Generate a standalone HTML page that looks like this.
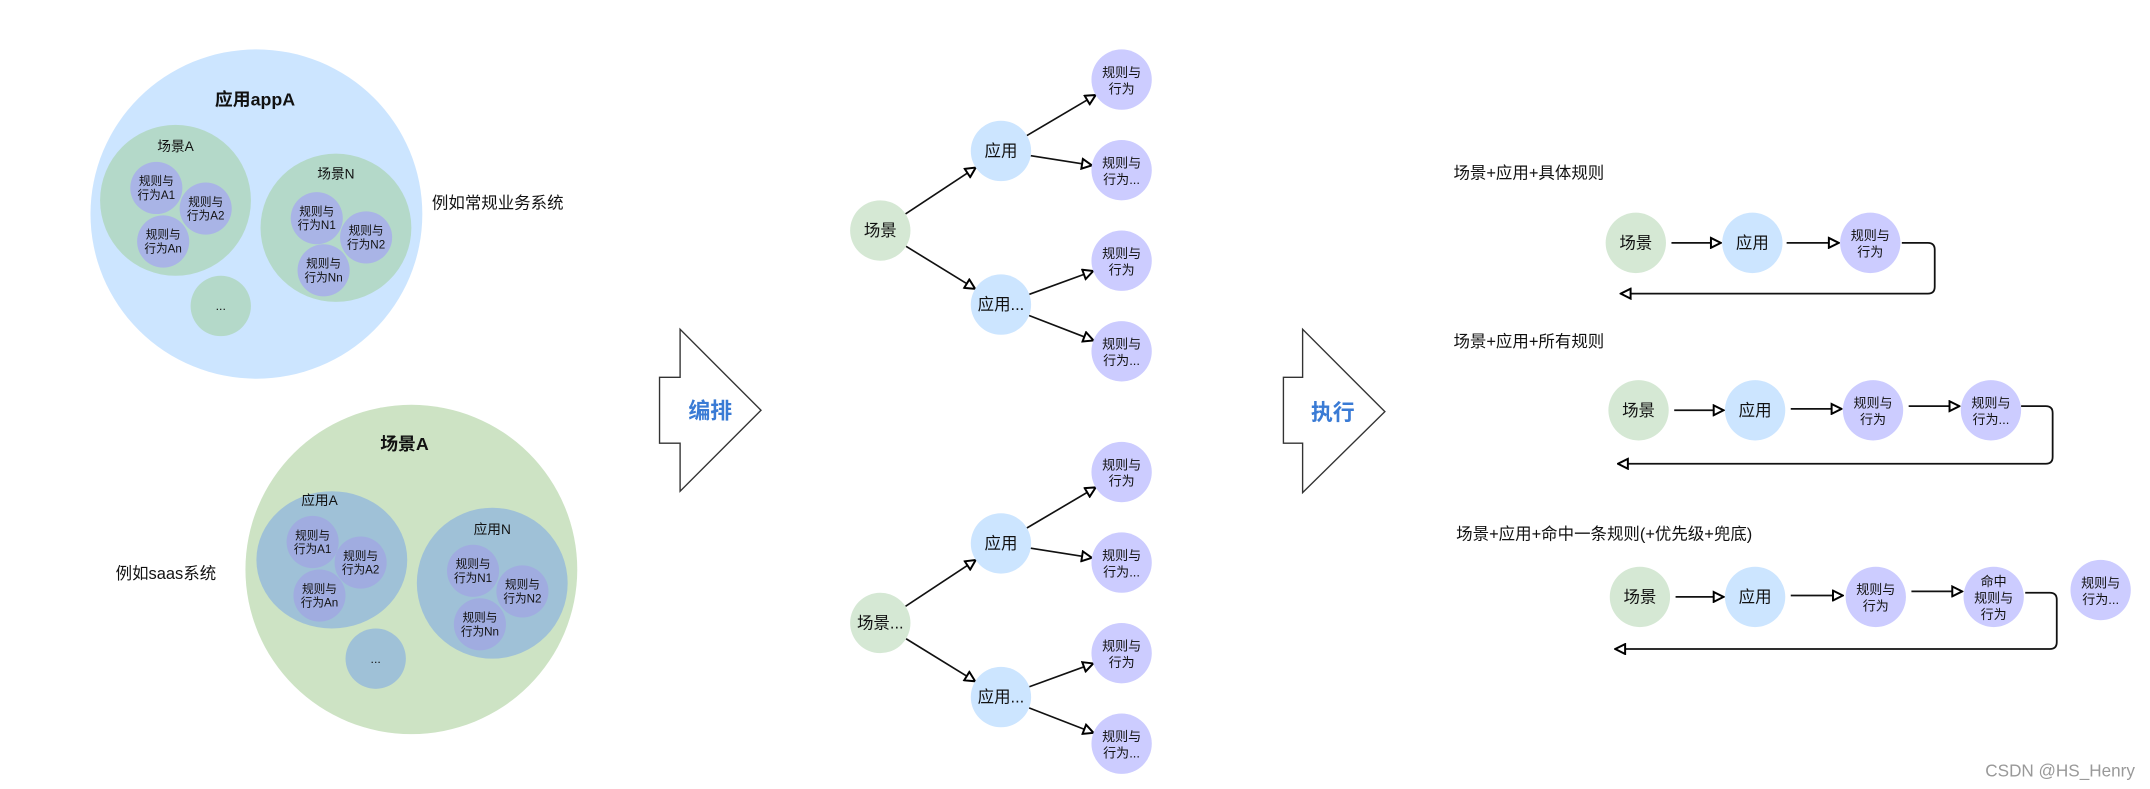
<!DOCTYPE html>
<html><head><meta charset="utf-8"><style>
html,body{margin:0;padding:0;background:#fff;}
svg{display:block;}
text{font-family:"Liberation Sans","Noto Sans CJK SC",sans-serif;fill:#111;text-anchor:middle;}
</style></head><body>
<svg width="2150" height="789" viewBox="0 0 1568 575" preserveAspectRatio="none" xmlns="http://www.w3.org/2000/svg">
<defs>
<marker id="a" viewBox="0 0 10 10" refX="9" refY="5" markerWidth="9" markerHeight="9" markerUnits="userSpaceOnUse" orient="auto">
<path d="M1,1 L9,5 L1,9 z" fill="#fff" stroke="#000" stroke-width="1.6"/>
</marker>
</defs>
<rect width="1568" height="575" fill="#fff"/>

<!-- top left -->
<ellipse cx="187" cy="156" rx="121" ry="120" fill="#cce5ff"/>
<text x="186" y="77" font-size="13" font-weight="bold">应用appA</text>
<ellipse cx="128" cy="146" rx="55" ry="55" fill="#b4d9c9"/>
<text x="128" y="110" font-size="10">场景A</text>
<g font-size="8.5">
<circle cx="114" cy="137" r="19" fill="#a9b4e6"/><text x="114" y="135">规则与</text><text x="114" y="145">行为A1</text>
<circle cx="150" cy="152" r="19" fill="#a9b4e6"/><text x="150" y="150">规则与</text><text x="150" y="160">行为A2</text>
<circle cx="119" cy="176" r="19" fill="#a9b4e6"/><text x="119" y="174">规则与</text><text x="119" y="184">行为An</text>
</g>
<ellipse cx="161" cy="223" rx="22" ry="22" fill="#b4d9c9"/><text x="161" y="226" font-size="9">...</text>
<ellipse cx="245" cy="166" rx="55" ry="54" fill="#b4d9c9"/>
<text x="245" y="130" font-size="10">场景N</text>
<g font-size="8.5">
<circle cx="231" cy="159" r="19" fill="#a9b4e6"/><text x="231" y="157">规则与</text><text x="231" y="167">行为N1</text>
<circle cx="267" cy="173" r="19" fill="#a9b4e6"/><text x="267" y="171">规则与</text><text x="267" y="181">行为N2</text>
<circle cx="236" cy="197" r="19" fill="#a9b4e6"/><text x="236" y="195">规则与</text><text x="236" y="205">行为Nn</text>
</g>
<text x="363" y="152" font-size="12">例如常规业务系统</text>

<!-- bottom left -->
<ellipse cx="300" cy="415" rx="121" ry="120" fill="#cde3c4"/>
<text x="295" y="328" font-size="13" font-weight="bold">场景A</text>
<ellipse cx="242" cy="408" rx="55" ry="50" fill="#9fc1d7"/>
<text x="233" y="368" font-size="10">应用A</text>
<g font-size="8.5">
<circle cx="228" cy="395" r="19" fill="#a0ace0"/><text x="228" y="393">规则与</text><text x="228" y="403">行为A1</text>
<circle cx="263" cy="410" r="19" fill="#a0ace0"/><text x="263" y="408">规则与</text><text x="263" y="418">行为A2</text>
<circle cx="233" cy="434" r="19" fill="#a0ace0"/><text x="233" y="432">规则与</text><text x="233" y="442">行为An</text>
</g>
<ellipse cx="274" cy="480" rx="22" ry="22" fill="#9fc1d7"/><text x="274" y="483" font-size="9">...</text>
<ellipse cx="359" cy="425" rx="55" ry="55" fill="#9fc1d7"/>
<text x="359" y="389" font-size="10">应用N</text>
<g font-size="8.5">
<circle cx="345" cy="416" r="19" fill="#a0ace0"/><text x="345" y="414">规则与</text><text x="345" y="424">行为N1</text>
<circle cx="381" cy="431" r="19" fill="#a0ace0"/><text x="381" y="429">规则与</text><text x="381" y="439">行为N2</text>
<circle cx="350" cy="455" r="19" fill="#a0ace0"/><text x="350" y="453">规则与</text><text x="350" y="463">行为Nn</text>
</g>
<text x="121" y="422" font-size="12">例如saas系统</text>

<!-- big arrows -->
<path d="M481,275 H496 V240 L555,299 L496,358 V323 H481 Z" fill="#fff" stroke="#333" stroke-width="1"/>
<text x="518" y="305" font-size="16" font-weight="bold" style="fill:#3a7bd5">编排</text>
<path d="M936,275 H950 V240 L1010,300 L950,359 V323 H936 Z" fill="#fff" stroke="#333" stroke-width="1"/>
<text x="972" y="306" font-size="16" font-weight="bold" style="fill:#3a7bd5">执行</text>

<!-- middle trees -->
<g id="tree">
<g stroke="#111" stroke-width="1.2" marker-end="url(#a)">
<line x1="660.4" y1="155.9" x2="711.6" y2="122.1"/>
<line x1="660.8" y1="179.5" x2="711.2" y2="210.5"/>
<line x1="748.9" y1="98.8" x2="799.1" y2="69.2"/>
<line x1="751.7" y1="113.5" x2="796.3" y2="120.5"/>
<line x1="750.7" y1="214.5" x2="797.3" y2="197.5"/>
<line x1="750.5" y1="229.9" x2="797.5" y2="248.1"/>
</g>
<circle cx="730" cy="110" r="22" fill="#cce5ff"/><text x="730" y="114" font-size="12">应用</text>
<circle cx="730" cy="222" r="22" fill="#cce5ff"/><text x="730" y="226" font-size="12">应用...</text>
<g font-size="9.5">
<circle cx="818" cy="58" r="22" fill="#ccccff"/><text x="818" y="56">规则与</text><text x="818" y="68">行为</text>
<circle cx="818" cy="124" r="22" fill="#ccccff"/><text x="818" y="122">规则与</text><text x="818" y="134">行为...</text>
<circle cx="818" cy="190" r="22" fill="#ccccff"/><text x="818" y="188">规则与</text><text x="818" y="200">行为</text>
<circle cx="818" cy="256" r="22" fill="#ccccff"/><text x="818" y="254">规则与</text><text x="818" y="266">行为...</text>
</g>
</g>
<circle cx="642" cy="168" r="22" fill="#d5e8d4"/><text x="642" y="172" font-size="12">场景</text>
<use href="#tree" transform="translate(0,286)"/>
<circle cx="642" cy="454" r="22" fill="#d5e8d4"/><text x="642" y="458" font-size="12">场景...</text>

<!-- right -->
<g font-size="12" style="text-anchor:start">
<text x="1060" y="130" style="text-anchor:start">场景+应用+具体规则</text>
<text x="1060" y="253" style="text-anchor:start">场景+应用+所有规则</text>
<text x="1062" y="393" style="text-anchor:start">场景+应用+命中一条规则(+优先级+兜底)</text>
</g>
<g stroke="#111" stroke-width="1.3" fill="none" marker-end="url(#a)">
<line x1="1219" y1="177" x2="1255" y2="177"/>
<line x1="1303" y1="177" x2="1341" y2="177"/>
<path d="M1387,177 H1406 Q1411,177 1411,182 V209 Q1411,214 1406,214 H1182"/>
<line x1="1221" y1="299" x2="1257" y2="299"/>
<line x1="1306" y1="298" x2="1343" y2="298"/>
<line x1="1392" y1="296" x2="1429" y2="296"/>
<path d="M1474,296 H1492 Q1497,296 1497,301 V333 Q1497,338 1492,338 H1180"/>
<line x1="1222" y1="435" x2="1257" y2="435"/>
<line x1="1306" y1="434" x2="1344" y2="434"/>
<line x1="1394" y1="431" x2="1431" y2="431"/>
<path d="M1477,432 H1495 Q1500,432 1500,437 V468 Q1500,473 1495,473 H1178"/>
</g>
<g>
<ellipse cx="1193" cy="177" rx="22" ry="22" fill="#d5e8d4"/><text x="1193" y="181" font-size="12">场景</text>
<ellipse cx="1278" cy="177" rx="22" ry="22" fill="#cce5ff"/><text x="1278" y="181" font-size="12">应用</text>
<ellipse cx="1364" cy="177" rx="22" ry="22" fill="#ccccff"/><text x="1364" y="175" font-size="9.5">规则与</text><text x="1364" y="187" font-size="9.5">行为</text>

<ellipse cx="1195" cy="299" rx="22" ry="22" fill="#d5e8d4"/><text x="1195" y="303" font-size="12">场景</text>
<ellipse cx="1280" cy="299" rx="22" ry="22" fill="#cce5ff"/><text x="1280" y="303" font-size="12">应用</text>
<ellipse cx="1366" cy="299" rx="22" ry="22" fill="#ccccff"/><text x="1366" y="297" font-size="9.5">规则与</text><text x="1366" y="309" font-size="9.5">行为</text>
<ellipse cx="1452" cy="299" rx="22" ry="22" fill="#ccccff"/><text x="1452" y="297" font-size="9.5">规则与</text><text x="1452" y="309" font-size="9.5">行为...</text>

<ellipse cx="1196" cy="435" rx="22" ry="22" fill="#d5e8d4"/><text x="1196" y="439" font-size="12">场景</text>
<ellipse cx="1280" cy="435" rx="22" ry="22" fill="#cce5ff"/><text x="1280" y="439" font-size="12">应用</text>
<ellipse cx="1368" cy="435" rx="22" ry="22" fill="#ccccff"/><text x="1368" y="433" font-size="9.5">规则与</text><text x="1368" y="445" font-size="9.5">行为</text>
<ellipse cx="1454" cy="435" rx="22" ry="22" fill="#ccccff"/><text x="1454" y="427" font-size="9.5">命中</text><text x="1454" y="439" font-size="9.5">规则与</text><text x="1454" y="451" font-size="9.5">行为</text>
<ellipse cx="1532" cy="430" rx="22" ry="22" fill="#ccccff"/><text x="1532" y="428" font-size="9.5">规则与</text><text x="1532" y="440" font-size="9.5">行为...</text>
</g>

<text x="1557" y="566" font-size="12.5" style="text-anchor:end;fill:#999">CSDN @HS_Henry</text>
</svg>
</body></html>
